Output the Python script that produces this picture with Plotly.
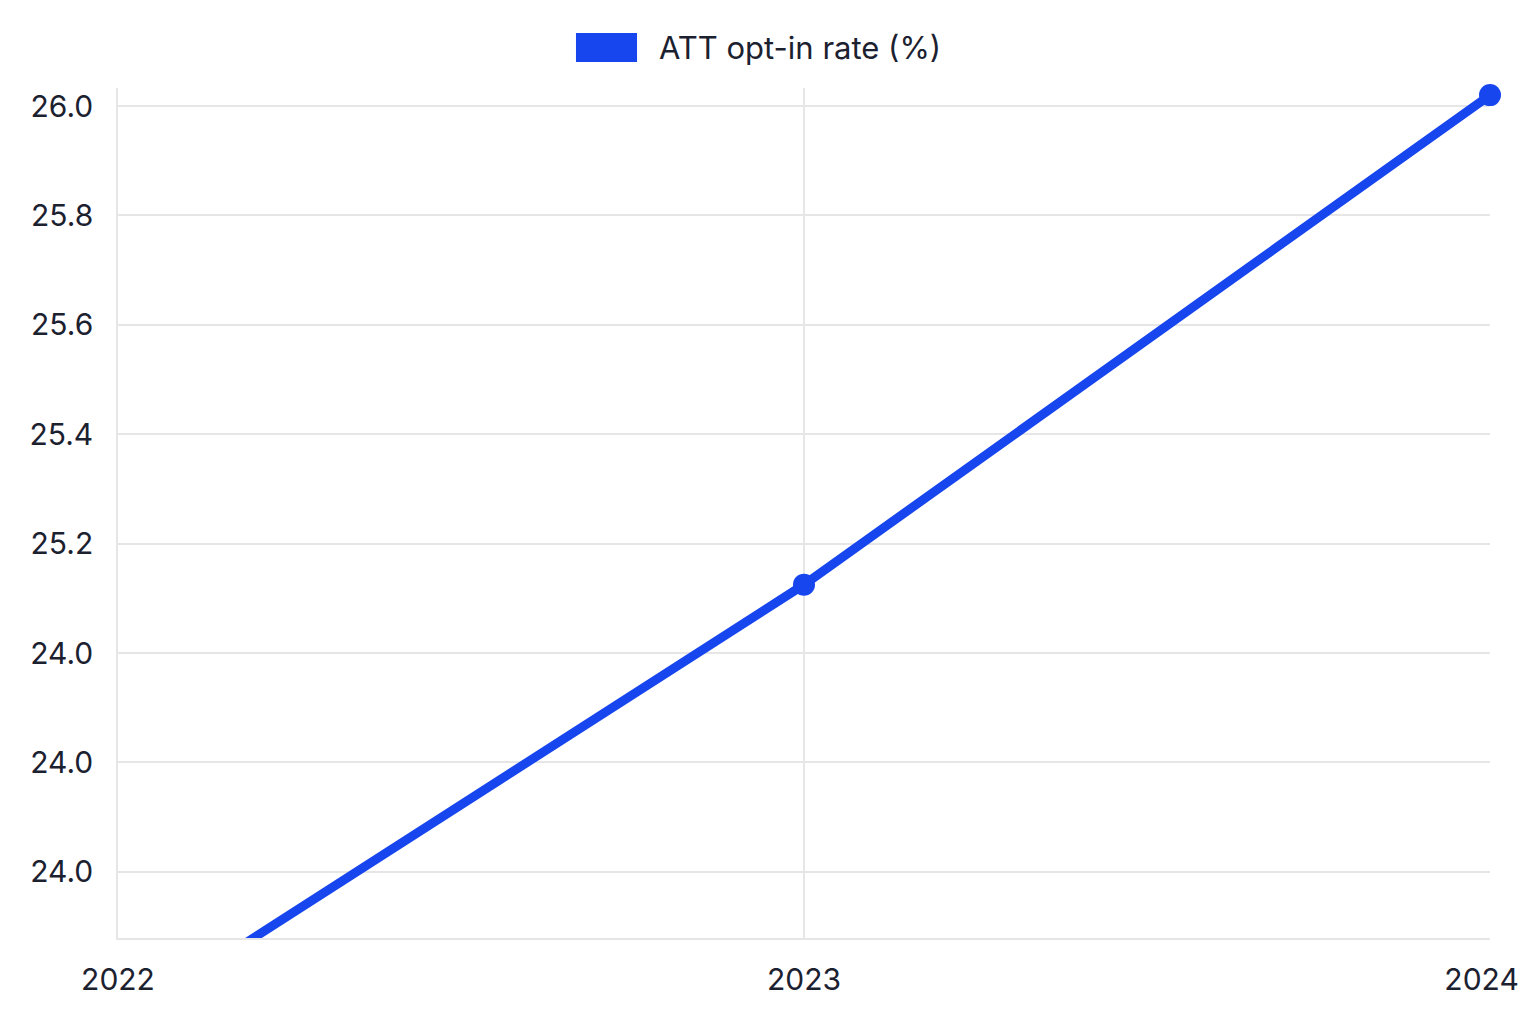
import plotly.graph_objects as go

# dane
years = [2022, 2023, 2024]
opt_in = [24.32, 25.125, 26.02]
series_name = "ATT opt-in rate (%)"

# etykiety osi Y tak jak na obrazku
y_tickvals = [24.6, 24.8, 25.0, 25.2, 25.4, 25.6, 25.8, 26.0]
y_ticktext = ["24.0", "24.0", "24.0", "25.2", "25.4", "25.6", "25.8", "26.0"]
x_tickvals = [2022, 2023, 2024]
# ostatnia etykieta lekko przesunieta w lewo (jak w oryginale)
x_ticktext = ["2022", "2023", "2024" + "\u00a0" * 2]
x_gridvals = [2023]

blue = "#1746ee"
txt = "#1c2130"
grid = "#e6e6e6"

fig = go.Figure()

fig.add_trace(
    go.Scatter(x=years, y=opt_in,
               mode='lines+markers',
               name=series_name,
               line=dict(color=blue, width=9),
               marker=dict(color=blue, size=22),
               cliponaxis=False,
               showlegend=False
               )
)

# legenda: prostokat + tekst jak w oryginale
fig.add_shape(type="rect", xref="paper", yref="paper",
              x0=0.3338, x1=0.3783, y0=1.0306, y1=1.0647,
              fillcolor=blue, line=dict(width=0))
fig.add_annotation(text=series_name, xref="paper", yref="paper",
                   x=0.3929, y=1.0482, xanchor="left", yanchor="middle",
                   showarrow=False, font=dict(size=31, color=txt))

fig.update_xaxes(range=[2022, 2024],
                 tickvals=x_tickvals, ticktext=x_ticktext,
                 showgrid=False,
                 minor=dict(tickvals=x_gridvals, showgrid=True,
                            gridcolor=grid, gridwidth=1.5, ticks=""),
                 showline=True, linecolor=grid, linewidth=1.5,
                 zeroline=False, ticks="", ticklabelstandoff=14,
                 ticklabeloverflow="allow", automargin=False)
fig.update_yaxes(range=[24.479, 26.033],
                 tickvals=y_tickvals, ticktext=y_ticktext,
                 showgrid=True, gridcolor=grid, gridwidth=1.5,
                 showline=True, linecolor=grid, linewidth=1.5,
                 zeroline=False, ticks="", ticklabelstandoff=17,
                 automargin=False)

fig.update_layout(
    width=1536, height=1024,
    margin=dict(l=118, r=46, t=88, b=86),
    paper_bgcolor="white", plot_bgcolor="white",
    font=dict(family="Inter", size=30, color=txt),
    showlegend=False
)

# bez domyslnego marginesu body, zeby wykres zajmowal cale okno
fig.write_html("out.html",
               config={'displayModeBar': False},
               post_script="document.body.style.margin='0';")
